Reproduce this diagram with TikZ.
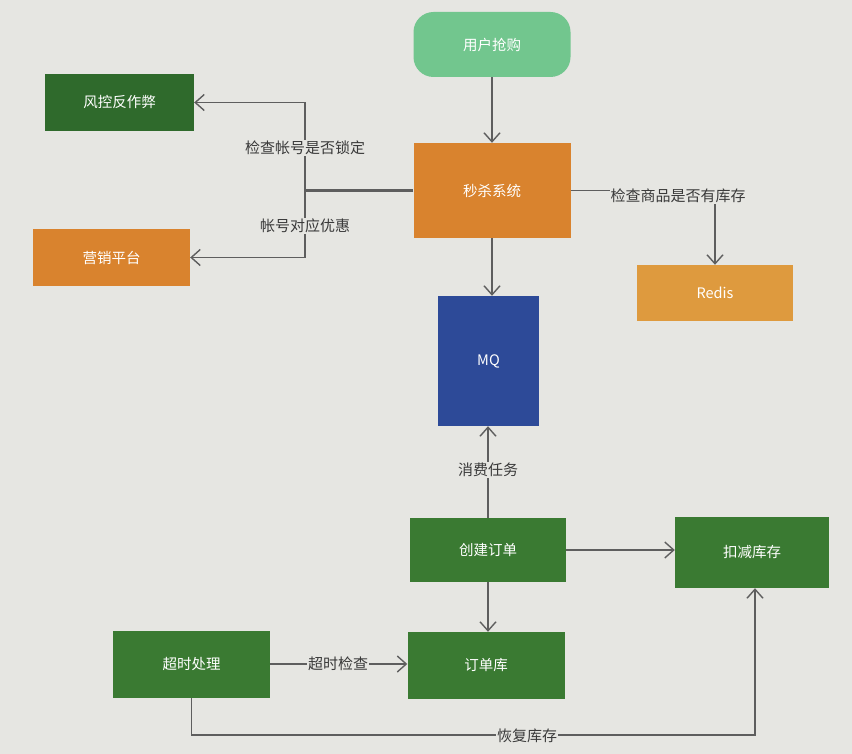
\documentclass[tikz,border=0pt]{standalone}
\usepackage{fontspec}
\setmainfont{Noto Sans CJK SC}
\usetikzlibrary{arrows.meta}
\definecolor{bgc}{HTML}{E6E6E2}
\definecolor{lgreen}{HTML}{72C68E}
\definecolor{dgreen}{HTML}{2F6A2C}
\definecolor{mgreen}{HTML}{3A7A32}
\definecolor{orng}{HTML}{D9832E}
\definecolor{lorng}{HTML}{DE9A3E}
\definecolor{mqblue}{HTML}{2D4A98}
\definecolor{linec}{HTML}{5E5E5E}
\definecolor{txtc}{HTML}{3A3A3A}
\begin{document}
\begin{tikzpicture}[x=1pt,y=-1pt,
  box/.style={draw=none,text=white,font=\fontsize{14.5}{17}\selectfont,inner sep=0pt},
  conn/.style={draw=linec,line width=1.5pt,-{Straight Barb[length=9pt,width=16pt,line width=1.4pt]}},
  plain/.style={draw=linec,line width=2.2pt},
  lbl/.style={fill=bgc,text=txtc,font=\fontsize{15}{17}\selectfont,inner sep=1pt}]
\fill[bgc] (0,0) rectangle (852,754);
\useasboundingbox (0,0) rectangle (852,754);
% nodes
\node[box,fill=lgreen,rounded corners=20pt,minimum width=157pt,minimum height=65pt] (user) at (492,44.5) {用户抢购};
\node[box,fill=dgreen,minimum width=149pt,minimum height=57pt] (risk) at (119.5,102.5) {风控反作弊};
\node[box,fill=orng,minimum width=157pt,minimum height=95pt] (seck) at (492,190.5) {秒杀系统};
\node[box,fill=orng,minimum width=157pt,minimum height=57pt] (mkt) at (111.5,257.5) {营销平台};
\node[box,fill=lorng,minimum width=156pt,minimum height=56pt] (redis) at (715,293) {Redis};
\node[box,fill=mqblue,minimum width=101pt,minimum height=130pt] (mq) at (488.5,361) {MQ};
\node[box,fill=mgreen,minimum width=156pt,minimum height=64pt] (order) at (488,550) {创建订单};
\node[box,fill=mgreen,minimum width=154pt,minimum height=71pt] (stock) at (752,552.5) {扣减库存};
\node[box,fill=mgreen,minimum width=157pt,minimum height=67pt] (timeout) at (191.5,664) {超时处理};
\node[box,fill=mgreen,minimum width=157pt,minimum height=67pt] (odb) at (486,665.5) {订单库};
% coordinates
\coordinate (jl) at (305,190.5);
\coordinate (b1) at (191.5,735);
\coordinate (b2) at (755,735);
% connectors
\draw[conn] (user.south) -- (seck.north);
\draw[plain] (seck.west) -- (jl);
\draw[conn] (jl) |- (risk.east);
\draw[conn] (jl) |- (mkt.east);
\node[lbl] (l1) at (305,148) {检查帐号是否锁定};
\node[lbl] (l2) at (305,226) {帐号对应优惠};
\draw[conn] (seck.east) -| (redis.north);
\node[lbl] (l3) at (678,196) {检查商品是否有库存};
\draw[conn] (seck.south) -- (seck.south |- mq.north);
\draw[conn] (order.north) -- (order.north |- mq.south);
\node[lbl] (l4) at (488,470) {消费任务};
\draw[conn] (order.east) -- (order.east -| stock.west);
\draw[conn] (order.south) -- (order.south |- odb.north);
\draw[conn] (timeout.east) -- (odb.west |- timeout.east);
\node[lbl] (l5) at (338,664) {超时检查};
\draw[conn] (timeout.south) -- (b1) -- (b2) -- (stock.south -| b2);
\node[lbl] (l6) at (527,736) {恢复库存};
\end{tikzpicture}
\end{document}
